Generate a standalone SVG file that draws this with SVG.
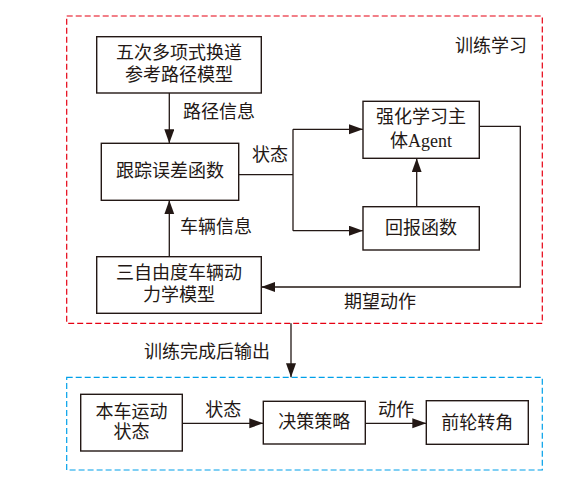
<svg xmlns="http://www.w3.org/2000/svg" width="577" height="481" viewBox="0 0 577 481">
<style>
.box{fill:#fff;stroke:#231815;stroke-width:1.4}
.ln{fill:none;stroke:#231815;stroke-width:1.3}
.t{font-family:"Liberation Serif","Noto Sans CJK SC",serif;font-size:18px;fill:#231815;text-anchor:middle;dominant-baseline:central}
.red{fill:none;stroke:#e60012;stroke-width:1.2;stroke-dasharray:6,3}
.blue{fill:none;stroke:#00a0e9;stroke-width:1.2;stroke-dasharray:6,3}
</style>
<defs>
<marker id="ah" markerUnits="userSpaceOnUse" markerWidth="15" markerHeight="11" refX="14" refY="5" orient="auto">
<path d="M0,0 L14,5 L0,10 z" fill="#231815"/>
</marker>
</defs>
<rect class="red" x="66.7" y="16" width="475.6" height="307.3"/>
<rect class="blue" x="66.7" y="377.3" width="475.6" height="92.7"/>
<text class="t" x="491" y="46">训练学习</text>
<g id="connectors">
<path class="ln" d="M169.3,93 V143.3" marker-end="url(#ah)"/>
<path class="ln" d="M169.3,256.7 V200.3" marker-end="url(#ah)"/>
<path class="ln" d="M238.7,174.7 H293"/>
<path class="ln" d="M293,129.3 V230.7"/>
<path class="ln" d="M293,129.3 H363" marker-end="url(#ah)"/>
<path class="ln" d="M293,230.7 H363" marker-end="url(#ah)"/>
<path class="ln" d="M416.7,206.7 V158.3" marker-end="url(#ah)"/>
<path class="ln" d="M479.3,126.3 H520.3 V287 H261.3" marker-end="url(#ah)"/>
<path class="ln" d="M291,323.3 V377.3" marker-end="url(#ah)"/>
<path class="ln" d="M182.3,423.3 H263.3" marker-end="url(#ah)"/>
<path class="ln" d="M365.3,423.3 H426.3" marker-end="url(#ah)"/>
<text class="t" x="219" y="111.7">路径信息</text>
<text class="t" x="216" y="226.7">车辆信息</text>
<text class="t" x="270" y="155">状态</text>
<text class="t" x="380" y="302.3">期望动作</text>
<text class="t" x="207" y="352.3">训练完成后输出</text>
<text class="t" x="223.3" y="410">状态</text>
<text class="t" x="396" y="410">动作</text>
</g>
<g id="n1">
<rect class="box" x="96.7" y="36.7" width="164.6" height="56.3"/>
<text class="t" x="179" y="53.3">五次多项式换道</text>
<text class="t" x="179" y="75">参考路径模型</text>
</g>
<g id="n2">
<rect class="box" x="101.3" y="143.3" width="137.4" height="57"/>
<text class="t" x="170" y="170.7">跟踪误差函数</text>
</g>
<g id="n3">
<rect class="box" x="363" y="101.3" width="116.3" height="57"/>
<text class="t" x="421" y="116.7">强化学习主</text>
<text class="t" x="421" y="140.7">体Agent</text>
</g>
<g id="n4">
<rect class="box" x="363" y="206.7" width="116.3" height="43.3"/>
<text class="t" x="421" y="228.3">回报函数</text>
</g>
<g id="n5">
<rect class="box" x="96.7" y="256.7" width="164.6" height="56.6"/>
<text class="t" x="179" y="273.3">三自由度车辆动</text>
<text class="t" x="179" y="295">力学模型</text>
</g>
<g id="n6">
<rect class="box" x="80.7" y="394.3" width="101.6" height="56.7"/>
<text class="t" x="131.5" y="411.7">本车运动</text>
<text class="t" x="131.5" y="431.7">状态</text>
</g>
<g id="n7">
<rect class="box" x="263.3" y="401.3" width="102" height="42.7"/>
<text class="t" x="314.3" y="421.7">决策策略</text>
</g>
<g id="n8">
<rect class="box" x="426.3" y="400.7" width="102" height="43.6"/>
<text class="t" x="477.3" y="422.5">前轮转角</text>
</g>
</svg>
